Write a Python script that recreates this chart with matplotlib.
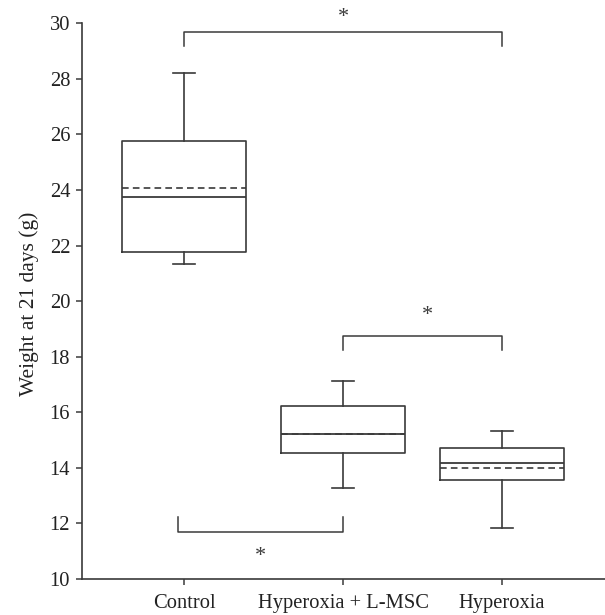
import matplotlib.pyplot as plt

groups = ['Control', 'Hyperoxia + L-MSC', 'Hyperoxia']
whislo = [21.33, 13.27, 11.83]
q1 = [21.76, 14.53, 13.55]
med = [23.76, 15.21, 14.19]
mean = [24.06, 15.21, 13.99]
q3 = [25.77, 16.21, 14.73]
whishi = [28.2, 17.11, 15.33]

# significance brackets: (x0, x1, y_line, y_tip, star_x, star_y)
brackets = [
    (0, 2, 29.68, 29.2, 1.0, 30.2),
    (1, 2, 18.76, 18.26, 1.53, 19.47),
    (-0.04, 1, 11.7, 12.23, 0.48, 10.8),
]

plt.rcParams['font.family'] = ['Liberation Serif', 'DejaVu Serif']
col = '#3a3a3a'
box_w = 0.78

fig = plt.figure(figsize=(6.05, 6.15), dpi=100)
ax = fig.add_axes([0.1355, 0.0585, 0.8645, 0.9036])

stats = []
for i in range(len(groups)):
    stats.append({'whislo': whislo[i], 'q1': q1[i], 'med': med[i],
                  'q3': q3[i], 'whishi': whishi[i], 'fliers': []})

pos = list(range(len(groups)))
ax.bxp(stats, positions=pos, widths=box_w, capwidths=0.14, showfliers=False,
       boxprops=dict(color=col, linewidth=1.2),
       whiskerprops=dict(color=col, linewidth=1.2),
       capprops=dict(color=col, linewidth=1.2),
       medianprops=dict(color=col, linewidth=1.3, zorder=3))

# mean lines, dashed, under the median
ax.hlines(mean, [p - box_w / 2 for p in pos], [p + box_w / 2 for p in pos],
          colors=col, linewidth=1.2, linestyles=(0, (4, 2.5)), zorder=1.5)

for x0, x1, yl, yt, sx, sy in brackets:
    ax.plot([x0, x0, x1, x1], [yt, yl, yl, yt], color=col, lw=1.1, clip_on=False)
    ax.text(sx, sy, '*', ha='center', va='center', fontsize=16, color=col)

ax.set_xlim(-0.645, 2.65)
ax.set_ylim(10, 30)
ax.set_yticks(range(10, 31, 2))
ax.set_xticks(pos)
ax.set_xticklabels(groups)
ax.set_ylabel('Weight at 21 days (g)', fontsize=15.5, color='#222222')
ax.yaxis.set_label_coords(-0.082, 0.495)
for s in ['top', 'right']:
    ax.spines[s].set_visible(False)
for s in ['left', 'bottom']:
    ax.spines[s].set_color(col)
    ax.spines[s].set_linewidth(1.2)
ax.tick_params(direction='out', length=4.5, width=1.1, color=col, labelsize=14.8,
               labelcolor='#222222')
ax.tick_params(axis='x', pad=6)
ax.tick_params(axis='y', pad=4)

plt.savefig('out.png', dpi=100)
